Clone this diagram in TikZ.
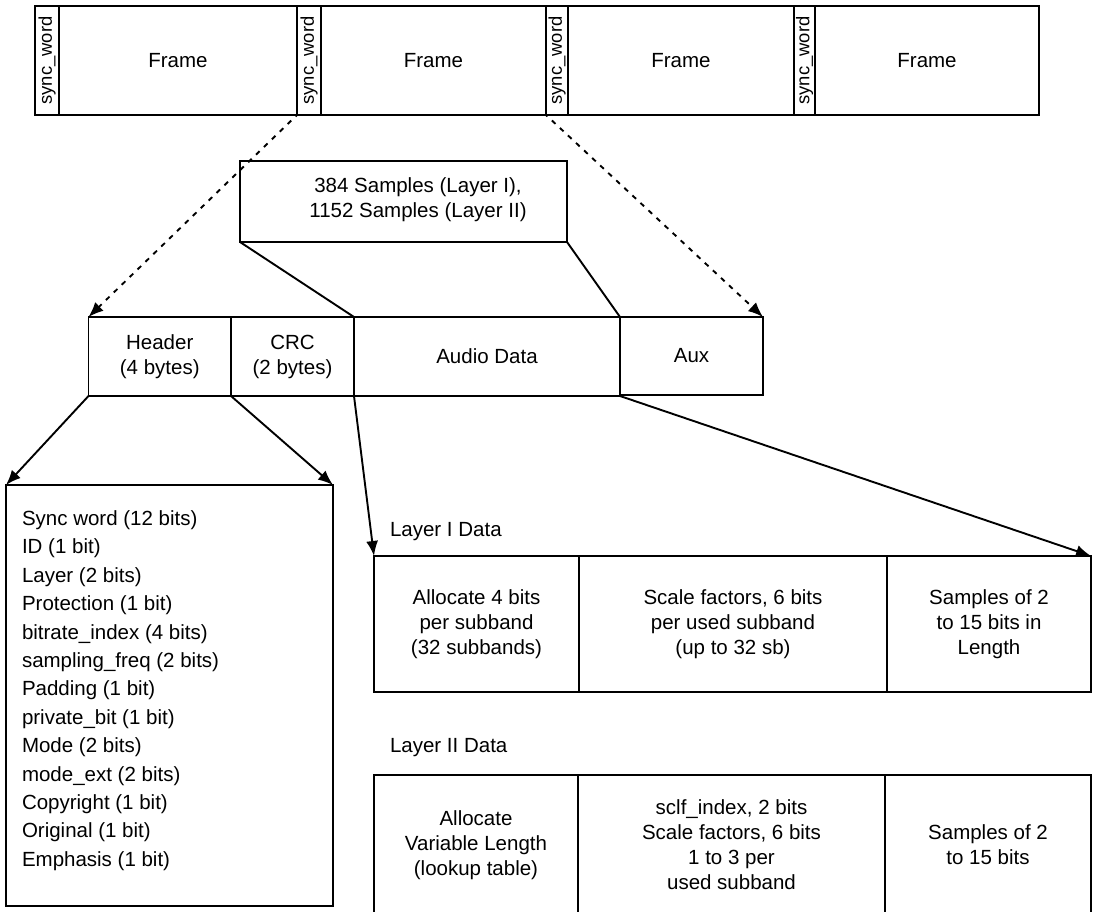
\documentclass[tikz,border=0pt]{standalone}
\usepackage{fontspec}
\setmainfont{Liberation Sans}
\usetikzlibrary{arrows.meta}
\begin{document}
\begin{tikzpicture}[x=1pt,y=-1pt,
  cell/.style={draw,line width=1.9pt,inner sep=0pt,outer sep=0pt,anchor=north west,
    font=\fontsize{20.5}{25}\selectfont,align=center},
  txt/.style={inner sep=0pt,outer sep=0pt,font=\fontsize{20.5}{25}\selectfont,align=center},
  sync/.style={cell,font=\fontsize{18.4}{20}\selectfont},
  arr/.style={line width=1.9pt,-{Latex[length=15pt,width=12pt]}},
  darr/.style={line width=1.9pt,dash pattern=on 5pt off 6pt,dash phase=3pt,-{Latex[length=15pt,width=12pt]}},
  link/.style={line width=1.9pt}]
\useasboundingbox (0,0) rectangle (1094,912);
\clip (0,0) rectangle (1094,912);
% top row
\node[sync,minimum width=24pt,minimum height=109pt] (s1) at (35,6) {};
\node[rotate=90,txt,font=\fontsize{18.4}{20}\selectfont] at (s1.center) {sync\_word};
\node[cell,minimum width=238pt,minimum height=109pt] (f1) at (59,6) {Frame};
\node[sync,minimum width=24pt,minimum height=109pt] (s2) at (297,6) {};
\node[rotate=90,txt,font=\fontsize{18.4}{20}\selectfont] at (s2.center) {sync\_word};
\node[cell,minimum width=225pt,minimum height=109pt] (f2) at (321,6) {Frame};
\node[sync,minimum width=22pt,minimum height=109pt] (s3) at (546,6) {};
\node[rotate=90,txt,font=\fontsize{18.4}{20}\selectfont] at (s3.center) {sync\_word};
\node[cell,minimum width=226pt,minimum height=109pt] (f3) at (568,6) {Frame};
\node[sync,minimum width=21pt,minimum height=109pt] (s4) at (794,6) {};
\node[rotate=90,txt,font=\fontsize{18.4}{20}\selectfont] at (s4.center) {sync\_word};
\node[cell,minimum width=224pt,minimum height=109pt] (f4) at (815,6) {Frame};
% samples box
\node[cell,minimum width=327pt,minimum height=81pt] (smp) at (240,161) {};
\node[txt] (smpt) at (418,200) {384 Samples (Layer I),\\1152 Samples (Layer II)};
% middle row
\node[cell,minimum width=142.5pt,minimum height=79pt] (hd) at (88.5,317) {Header\\(4 bytes)};
\node[cell,minimum width=123pt,minimum height=79pt] (crc) at (231,317) {CRC\\(2 bytes)};
\node[cell,minimum width=266pt,minimum height=79pt] (ad) at (354,317) {Audio Data};
\node[cell,minimum width=143pt,minimum height=78pt] (aux) at (620,317) {Aux};
% dotted arrows
\draw[darr] (s2.south west) -- (hd.north west);
\draw[darr] (s3.south west) -- (aux.north east);
% samples links
\draw[link] (smp.south west) -- (ad.north west);
\draw[link] (smp.south east) -- (ad.north east);
% header list
\node[cell,minimum width=327pt,minimum height=421pt] (hl) at (6,485) {};
\node[txt,align=left,anchor=west,font=\fontsize{20.5}{28.4}\selectfont] (hlt) at (22,690.5) {Sync word (12 bits)\\ID (1 bit)\\Layer (2 bits)\\Protection (1 bit)\\bitrate\_index (4 bits)\\sampling\_freq (2 bits)\\Padding (1 bit)\\private\_bit (1 bit)\\Mode (2 bits)\\mode\_ext (2 bits)\\Copyright (1 bit)\\Original (1 bit)\\Emphasis (1 bit)};
\draw[arr] (hd.south west) -- (hl.north west);
\draw[arr] (hd.south east) -- (hl.north east);
% layer I
\node[txt,anchor=west] (l1lab) at (390,532) {Layer I Data};
\node[cell,minimum width=205pt,minimum height=136pt] (l1a) at (374,556) {Allocate 4 bits\\per subband\\(32 subbands)};
\node[cell,minimum width=308pt,minimum height=136pt] (l1b) at (579,556) {Scale factors, 6 bits\\per used subband\\(up to 32 sb)};
\node[cell,minimum width=204pt,minimum height=136pt] (l1c) at (887,556) {Samples of 2\\to 15 bits in\\Length};
\draw[arr] (ad.south west) -- (l1a.north west);
\draw[arr] (ad.south east) -- (l1c.north east);
% layer II
\node[txt,anchor=west] (l2lab) at (390,748) {Layer II Data};
\node[cell,minimum width=204pt,minimum height=140pt] (l2a) at (374,775) {Allocate\\Variable Length\\(lookup table)};
\node[cell,minimum width=307pt,minimum height=140pt] (l2b) at (578,775) {sclf\_index, 2 bits\\Scale factors, 6 bits\\1 to 3 per\\used subband};
\node[cell,minimum width=206pt,minimum height=140pt] (l2c) at (885,775) {Samples of 2\\to 15 bits};
\end{tikzpicture}
\end{document}
